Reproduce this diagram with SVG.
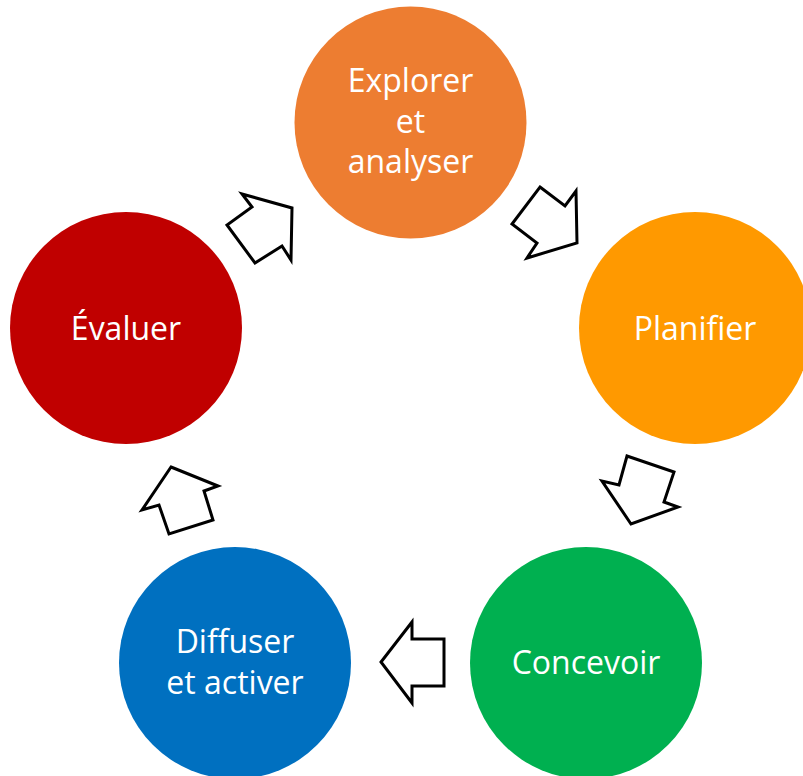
<svg xmlns="http://www.w3.org/2000/svg" width="803" height="776" viewBox="0 0 803 776">
<style>
.t{font-family:"Open Sans","Liberation Sans",sans-serif;font-size:32px;fill:#fff;text-anchor:middle}
.a{fill:#fff;stroke:#000;stroke-width:3;stroke-linejoin:miter}
</style>
<rect width="803" height="776" fill="#fff"/>
<g id="explorer"><circle cx="410.5" cy="122.5" r="116" fill="#ED7D31"/><text class="t" x="410.5" y="92">Explorer</text><text class="t" x="410.5" y="133">et</text><text class="t" x="410.5" y="173">analyser</text></g>
<g id="planifier"><circle cx="695" cy="328" r="116" fill="#FF9900"/><text class="t" x="695" y="340">Planifier</text></g>
<g id="concevoir"><circle cx="586" cy="663" r="116" fill="#00B050"/><text class="t" x="586" y="674">Concevoir</text></g>
<g id="diffuser"><circle cx="235" cy="663" r="116" fill="#0070C0"/><text class="t" x="235" y="653">Diffuser</text><text class="t" x="235" y="694">et activer</text></g>
<g id="evaluer"><circle cx="126" cy="328" r="116" fill="#C00000"/><text class="t" x="126" y="340">Évaluer</text></g>
<g id="connectors">
<polygon class="a" points="242,194 292,208 291,260 282,246 255,263 227,225 252,207"/>
<polygon class="a" points="540,187 565,206 576,191 577,243 527,258 537,243 512,224"/>
<polygon class="a" points="627,456 674,472 664,502 678,507 631,524 602,481 619,485"/>
<polygon class="a" points="412,622 412,639 444,639 444,686 412,686 412,703 381,662"/>
<polygon class="a" points="171,467 218,486 204,491 213,520 169,534 159,505 142,510"/>
</g>
</svg>
